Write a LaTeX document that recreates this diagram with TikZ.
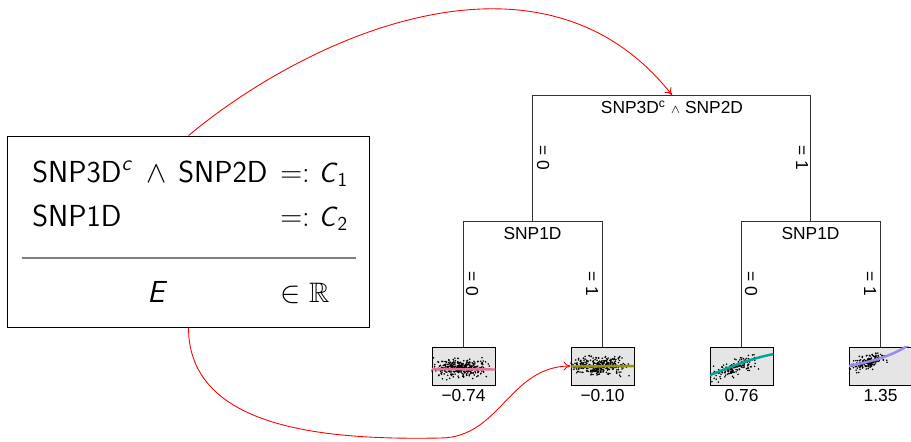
\documentclass[tikz,border=0pt]{standalone}
\usepackage{amsmath,amssymb}
\usepackage{fontspec}
\newfontfamily\treefont{Liberation Sans}
\usetikzlibrary{arrows.meta}

\definecolor{fitrose}{RGB}{226,114,150}
\definecolor{fitolive}{RGB}{150,150,0}
\definecolor{fitteal}{RGB}{0,166,148}
\definecolor{fitlilac}{RGB}{150,140,235}

\tikzset{
  treeline/.style={black!80,line width=0.5pt},
  splitlabel/.style={font=\treefont\fontsize{9.9}{12}\selectfont,anchor=north,inner sep=3.2pt},
  branch/.style={font=\treefont\fontsize{9.9}{12}\selectfont,rotate=-90,inner sep=0pt},
  leafbox/.style={draw,fill=black!10,line width=0.5pt,minimum width=1.26cm,minimum height=0.76cm,inner sep=0pt},
  leafval/.style={font=\treefont\fontsize{9.9}{12}\selectfont,anchor=north,inner sep=2pt},
  fitline/.style={line width=1.4pt},
  exprtext/.style={font=\sffamily\fontsize{17.3}{20}\selectfont,anchor=base west,inner sep=0pt},
  exprmath/.style={font=\sffamily\fontsize{16}{19}\selectfont,anchor=base west,inner sep=0pt},
  link/.style={red,line width=0.5pt,-{To[length=4pt,width=5pt]}}
}

\begin{document}
\begin{tikzpicture}[x=0.02cm,y=-0.02cm]
\useasboundingbox (0,0) rectangle (911,441);

% expression box
\node[draw,line width=0.55pt,minimum width=7.26cm,minimum height=3.82cm] (expr) at (188.5,231.5) {};
\node[exprtext] (lhsA) at (32,182) {SNP3D\textsuperscript{\textit{c}}};
\node[exprmath] (andA) at (146,182) {$\wedge$};
\node[exprtext] (lhsB) at (178,182) {SNP2D};
\node[exprmath] (defA) at (280,182) {$=:$ \textit{C}$_{\mathsf{1}}$};
\node[exprtext] (lhsC) at (32,226) {SNP1D};
\node[exprmath] (defB) at (280,226) {$=:$ \textit{C}$_{\mathsf{2}}$};
\draw[black!50,line width=1pt] (22,258) -- (356,258);
\node[exprtext] (effect) at (147,302) {\textit{E}};
\node[exprmath] (reals) at (280,302) {$\in\mathbb{R}$};

% tree: split labels
\node[splitlabel] (root) at (672,95) {SNP3D\textsuperscript{c} $\scriptstyle\wedge$ SNP2D};
\node[splitlabel] (nodeL) at (532.5,221) {SNP1D};
\node[splitlabel] (nodeR) at (810.5,221) {SNP1D};

% leaves
\node[leafbox] (leafA) at (463.5,366) {};
\node[leafbox] (leafB) at (602.5,366) {};
\node[leafbox] (leafC) at (741.5,366) {};
\node[leafbox] (leafD) at (880.5,366) {};

\draw[treeline] (nodeL.north) |- (root.north) -| (nodeR.north);
\draw[treeline] (leafA.north) |- (nodeL.north) -| (leafB.north);
\draw[treeline] (leafC.north) |- (nodeR.north) -| (leafD.north);

% branch labels
\node[branch] (brA) at (543,158) {= 0};
\node[branch] (brB) at (802,158) {= 1};
\node[branch] (brC) at (472,284) {= 0};
\node[branch] (brD) at (592,284) {= 1};
\node[branch] (brE) at (751,284) {= 0};
\node[branch] (brF) at (870,284) {= 1};

% scatter inside the leaves
\pgfmathsetseed{42}
\begin{scope}
\clip (leafA.south west) rectangle (leafA.north east);
\foreach \i in {1,...,340}{
  \pgfmathsetmacro\px{459+16*(rand+rand)}
  \pgfmathsetmacro\py{368+4.3*(rand+rand+rand)}
  \fill (\px,\py) circle (0.5pt);
}
\draw[fitline,fitrose] (432,369) -- (496,369.5);
\end{scope}
\begin{scope}
\clip (leafB.south west) rectangle (leafB.north east);
\foreach \i in {1,...,340}{
  \pgfmathsetmacro\px{598+16*(rand+rand)}
  \pgfmathsetmacro\py{366+4.3*(rand+rand+rand)}
  \fill (\px,\py) circle (0.5pt);
}
\draw[fitline,fitolive] (571,366.5) -- (635,366);
\end{scope}
\begin{scope}
\clip (leafC.south west) rectangle (leafC.north east);
\foreach \i in {1,...,160}{
  \pgfmathsetmacro\px{735+13*(rand+rand)}
  \pgfmathsetmacro\py{368-0.33*(\px-735)+3.6*(rand+rand+rand)}
  \fill (\px,\py) circle (0.5pt);
}
\draw[fitline,fitteal] (710,375) .. controls (733,366) and (752,358) .. (774,354);
\end{scope}
\begin{scope}
\clip (leafD.south west) rectangle (leafD.north east);
\foreach \i in {1,...,160}{
  \pgfmathsetmacro\px{868+11*(rand+rand)}
  \pgfmathsetmacro\py{362-0.3*(\px-868)+3.6*(rand+rand+rand)}
  \fill (\px,\py) circle (0.5pt);
}
\draw[fitline,fitlilac] (849,366) .. controls (872,361) and (892,357) .. (913,342);
\end{scope}

% leaf means
\node[leafval] (valA) at (leafA.south) {−0.74};
\node[leafval] (valB) at (leafB.south) {−0.10};
\node[leafval] (valC) at (leafC.south) {0.76};
\node[leafval] (valD) at (leafD.south) {1.35};

% links from the expression into the tree
\coordinate (dip) at (440,438);
\draw[link] (expr.north) .. controls +(120,-100) and +(-130,-165) .. (root.north);
\draw[link] (expr.south) .. controls +(0,103) and +(-110,2) .. (dip)
  .. controls +(60,0) and +(-61,0) .. (leafB.west);
\end{tikzpicture}
\end{document}
